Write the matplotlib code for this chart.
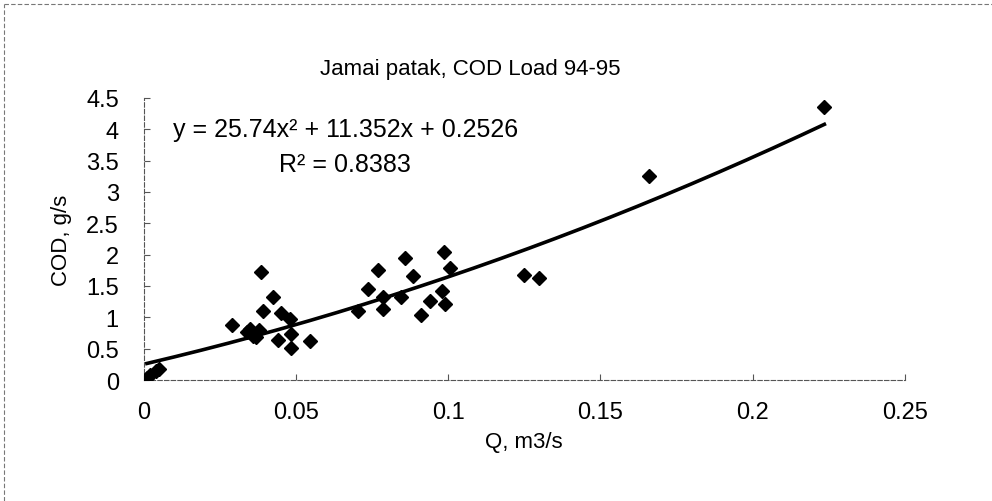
import matplotlib

matplotlib.use("Agg")

import matplotlib.pyplot as plt
from matplotlib.lines import Line2D
import numpy as np

plt.rcParams["font.family"] = ["Liberation Sans", "DejaVu Sans"]

# discharge Q (m3/s) and COD load (g/s)
Q = np.array([
    0.001, 0.002, 0.004, 0.005,
    0.029, 0.034, 0.035, 0.036, 0.037, 0.038,
    0.0386, 0.039, 0.0425, 0.044, 0.045,
    0.048, 0.0485, 0.0485, 0.0546,
    0.0705, 0.0736, 0.077, 0.0787, 0.0787,
    0.0845, 0.0857, 0.0886, 0.0912, 0.094,
    0.098, 0.0985, 0.099, 0.1007,
    0.1248, 0.1298, 0.166, 0.2236,
])
COD = np.array([
    0.04, 0.08, 0.14, 0.17,
    0.88, 0.76, 0.82, 0.70, 0.68, 0.80,
    1.72, 1.10, 1.33, 0.64, 1.07,
    0.97, 0.74, 0.51, 0.63,
    1.10, 1.45, 1.76, 1.13, 1.33,
    1.32, 1.94, 1.66, 1.04, 1.26,
    1.42, 2.04, 1.22, 1.79,
    1.68, 1.62, 3.26, 4.35,
])

# polynomial trendline as printed on the chart
COEF = [25.74, 11.352, 0.2526]
R2 = 0.8383

X_TICKS = [0, 0.05, 0.1, 0.15, 0.2, 0.25]
X_TICK_LABELS = ["0", "0.05", "0.1", "0.15", "0.2", "0.25"]
Y_TICKS = [0, 0.5, 1, 1.5, 2, 2.5, 3, 3.5, 4, 4.5]
Y_TICK_LABELS = ["0", "0.5", "1", "1.5", "2", "2.5", "3", "3.5", "4", "4.5"]

fig = plt.figure(figsize=(9.92, 5.02), dpi=100)
ax = fig.add_axes([0.145, 0.241, 0.767, 0.562])

xx = np.linspace(Q.min(), Q.max(), 200)
ax.plot(xx, np.polyval(COEF, xx), color="black", lw=2.6, zorder=2)
ax.plot(Q, COD, linestyle="none", marker="D", ms=7.5, color="black", zorder=3)

ax.set_xlim(0, 0.25)
ax.set_ylim(0, 4.5)
ax.set_xticks(X_TICKS, X_TICK_LABELS)
ax.set_yticks(Y_TICKS, Y_TICK_LABELS)
ax.tick_params(axis="x", direction="in", length=4, width=0.8, color="#555555",
               labelsize=17, pad=15)
ax.tick_params(axis="y", direction="in", length=4, width=0.8, color="#555555",
               labelsize=17, pad=18)

for side in ["top", "right"]:
    ax.spines[side].set_visible(False)
for side in ["left", "bottom"]:
    ax.spines[side].set_linestyle((0, (4, 2)))
    ax.spines[side].set_color("#555555")
    ax.spines[side].set_linewidth(0.8)

ax.set_xlabel("Q, m3/s", fontsize=16, labelpad=6)
ax.set_ylabel("COD, g/s", fontsize=16, labelpad=10)

ax.text(0.0662, 4.0, "y = 25.74x² + 11.352x + 0.2526", fontsize=18,
        ha="center", va="center")
ax.text(0.0662, 3.44, f"R² = {R2:.4f}", fontsize=18, ha="center", va="center")

fig.text(470 / 992, 1 - 70 / 502, "Jamai patak, COD Load 94-95", fontsize=16,
         ha="center", va="center")

# scanned chart-area border (top and left edges only visible)
border = dict(color="#777777", lw=0.8, linestyle=(0, (4, 2)), transform=fig.transFigure)
fig.add_artist(Line2D([4 / 992, 1.0], [1 - 5 / 502, 1 - 5 / 502], **border))
fig.add_artist(Line2D([4 / 992, 4 / 992], [0.0, 1 - 5 / 502], **border))

fig.savefig("out.png", dpi=100)
